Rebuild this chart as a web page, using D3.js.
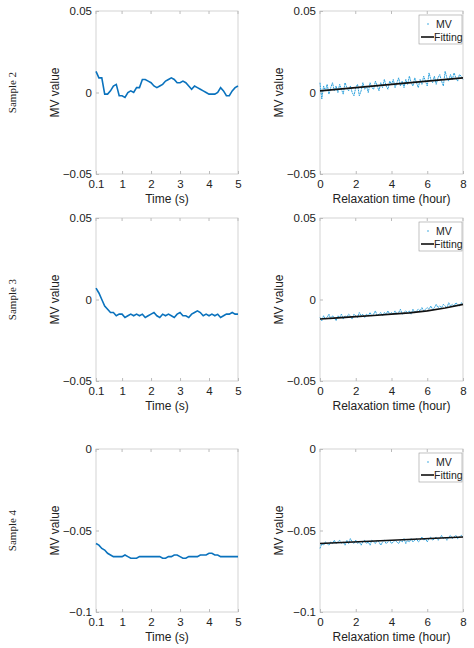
<!DOCTYPE html><html><head><meta charset="utf-8">
<script src="https://cdn.jsdelivr.net/npm/d3@7"></script>
<style>body{margin:0;background:#fff}text{font-family:"Liberation Sans",Arial,sans-serif}</style></head><body>
<svg id="c" width="474" height="648"></svg>
<script>
const sampleNames=["Sample 2","Sample 3","Sample 4"];
const yDomains=[[-0.05,0.05],[-0.05,0.05],[-0.1,0]];
const yTicks=[[-0.05,0,0.05],[-0.05,0,0.05],[-0.1,-0.05,0]];
const leftT=[0.1,0.2,0.3,0.4,0.5,0.6,0.7,0.8,0.9,1.0,1.1,1.2,1.3,1.4,1.5,1.6,1.7,1.8,1.9,2.0,2.1,2.2,2.3,2.4,2.5,2.6,2.7,2.8,2.9,3.0,3.1,3.2,3.3,3.4,3.5,3.6,3.7,3.8,3.9,4.0,4.1,4.2,4.3,4.4,4.5,4.6,4.7,4.8,4.9,5.0];
const left2=[0.013,0.009,0.009,-0.001,-0.001,0.001,0.004,0.005,-0.002,-0.002,-0.003,0.000,0.001,0.000,0.003,0.003,0.008,0.008,0.007,0.006,0.004,0.003,0.004,0.005,0.007,0.008,0.009,0.008,0.006,0.006,0.007,0.006,0.004,0.002,0.004,0.003,0.002,0.001,0.000,-0.001,-0.001,-0.001,0.000,0.003,0.001,-0.002,-0.002,0.001,0.003,0.004];
const left3=[0.007,0.004,0.000,-0.004,-0.006,-0.008,-0.008,-0.010,-0.009,-0.009,-0.011,-0.010,-0.009,-0.010,-0.009,-0.010,-0.009,-0.011,-0.010,-0.009,-0.008,-0.010,-0.011,-0.009,-0.010,-0.009,-0.010,-0.011,-0.009,-0.008,-0.010,-0.010,-0.011,-0.009,-0.008,-0.007,-0.008,-0.010,-0.009,-0.010,-0.009,-0.010,-0.009,-0.011,-0.010,-0.009,-0.009,-0.008,-0.009,-0.009];
const left4=[-0.058,-0.059,-0.061,-0.062,-0.064,-0.065,-0.066,-0.066,-0.066,-0.066,-0.065,-0.066,-0.067,-0.067,-0.067,-0.066,-0.066,-0.066,-0.066,-0.066,-0.066,-0.066,-0.066,-0.067,-0.067,-0.066,-0.066,-0.065,-0.065,-0.066,-0.067,-0.067,-0.066,-0.066,-0.066,-0.066,-0.065,-0.065,-0.065,-0.064,-0.064,-0.065,-0.065,-0.066,-0.066,-0.066,-0.066,-0.066,-0.066,-0.066];
const rightT=[0,0.1,0.2,0.3,0.4,0.5,0.6,0.7,0.8,0.9,1.0,1.1,1.2,1.3,1.4,1.5,1.6,1.7,1.8,1.9,2.0,2.1,2.2,2.3,2.4,2.5,2.6,2.7,2.8,2.9,3.0,3.1,3.2,3.3,3.4,3.5,3.6,3.7,3.8,3.9,4.0,4.1,4.2,4.3,4.4,4.5,4.6,4.7,4.8,4.9,5.0,5.1,5.2,5.3,5.4,5.5,5.6,5.7,5.8,5.9,6.0,6.1,6.2,6.3,6.4,6.5,6.6,6.7,6.8,6.9,7.0,7.1,7.2,7.3,7.4,7.5,7.6,7.7,7.8,7.9,8.0];
const mv2=[0.006,-0.004,0.004,0.001,0.005,-0.001,0.003,0.006,0.001,0.004,0.000,0.005,0.002,-0.001,0.006,0.003,0.001,0.004,0.000,-0.002,0.003,0.005,-0.002,0.001,0.006,0.002,0.004,0.000,0.006,0.003,0.002,0.007,0.004,0.001,0.006,0.003,0.008,0.004,0.002,0.007,0.005,0.008,0.003,0.006,0.009,0.004,0.007,0.003,0.008,0.005,0.010,0.006,0.004,0.009,0.006,0.003,0.008,0.005,0.010,0.007,0.004,0.012,0.008,0.006,0.010,0.005,0.009,0.011,0.007,0.004,0.013,0.009,0.007,0.011,0.008,0.012,0.009,0.007,0.011,0.010,0.008];
const fit2=[0.001,0.009];
const mv3=[-0.011,-0.013,-0.010,-0.012,-0.011,-0.009,-0.012,-0.010,-0.011,-0.013,-0.010,-0.011,-0.009,-0.012,-0.010,-0.011,-0.009,-0.010,-0.012,-0.009,-0.010,-0.011,-0.008,-0.010,-0.009,-0.011,-0.009,-0.010,-0.008,-0.010,-0.009,-0.007,-0.010,-0.009,-0.008,-0.010,-0.008,-0.009,-0.007,-0.009,-0.008,-0.009,-0.007,-0.009,-0.008,-0.006,-0.009,-0.008,-0.007,-0.008,-0.007,-0.009,-0.006,-0.008,-0.007,-0.006,-0.007,-0.005,-0.007,-0.006,-0.005,-0.006,-0.004,-0.006,-0.005,-0.003,-0.005,-0.004,-0.005,-0.003,-0.004,-0.005,-0.002,-0.004,-0.003,-0.004,-0.002,-0.003,-0.004,-0.002,-0.003];
const fit3=[-0.012,-0.0113,-0.0105,-0.0098,-0.009,-0.0082,-0.0070,-0.0052,-0.0030];
const mv4=[-0.061,-0.058,-0.059,-0.057,-0.058,-0.059,-0.057,-0.058,-0.056,-0.058,-0.057,-0.056,-0.058,-0.057,-0.059,-0.056,-0.058,-0.055,-0.057,-0.058,-0.056,-0.058,-0.057,-0.059,-0.057,-0.056,-0.058,-0.057,-0.059,-0.056,-0.057,-0.058,-0.056,-0.057,-0.059,-0.057,-0.056,-0.058,-0.057,-0.056,-0.058,-0.057,-0.056,-0.057,-0.058,-0.056,-0.057,-0.055,-0.058,-0.056,-0.057,-0.055,-0.057,-0.056,-0.055,-0.057,-0.056,-0.054,-0.056,-0.055,-0.057,-0.055,-0.054,-0.056,-0.055,-0.054,-0.056,-0.055,-0.053,-0.055,-0.054,-0.056,-0.054,-0.053,-0.055,-0.054,-0.053,-0.055,-0.054,-0.053,-0.054];
const fit4=[-0.058,-0.054];
const leftXTicks=[0.1,1,2,3,4,5];
const rightXTicks=[0,2,4,6,8];
const leftData=[left2,left3,left4];
const rightData=[mv2,mv3,mv4];
const fits=[fit2,fit3,fit4];

const svg=d3.select("#c");
const rows=[[11,174],[218,381],[449,612]];
const fmt=v=>v===0?"0":String(v).replace("-","\u2212");
rows.forEach((r,i)=>{
  const y=d3.scaleLinear().domain(yDomains[i]).range([r[1],r[0]]);
  [[96,238,"L"],[320,463,"R"]].forEach(([x0,x1,k])=>{
    const isL=k==="L";
    const x=d3.scaleLinear().domain(isL?[0.1,5]:[0,8]).range([x0,x1]);
    const g=svg.append("g");
    g.append("rect").attr("x",x0).attr("y",r[0]).attr("width",x1-x0).attr("height",r[1]-r[0]).attr("fill","none").attr("stroke","#c8c8c8").attr("stroke-width",0.8);
    const xt=isL?leftXTicks:rightXTicks;
    const ax=g.append("g").attr("transform",`translate(0,${r[1]})`).call(d3.axisBottom(x).tickValues(xt).tickSize(-3).tickPadding(6).tickFormat(d=>String(d)));
    const ay=g.append("g").attr("transform",`translate(${x0},0)`).call(d3.axisLeft(y).tickValues(yTicks[i]).tickSize(-3).tickPadding(4).tickFormat(fmt));
    [ax,ay].forEach(a=>{a.select(".domain").remove();a.selectAll("line").attr("stroke","#bbb");a.selectAll("text").attr("font-size",11.5).attr("fill","#222");});
    g.selectAll(null).data(xt).enter().append("line").attr("x1",d=>x(d)).attr("x2",d=>x(d)).attr("y1",r[0]).attr("y2",r[0]+3).attr("stroke","#bbb");
    g.append("text").attr("x",(x0+x1)/2).attr("y",r[1]+29).attr("text-anchor","middle").attr("font-size",12).attr("fill","#222").text(isL?"Time (s)":"Relaxation time (hour)");
    g.append("text").attr("transform",`translate(${x0-37},${(r[0]+r[1])/2}) rotate(-90)`).attr("text-anchor","middle").attr("font-size",12).attr("fill","#222").text("MV value");
    if(isL){
      g.append("path").datum(leftData[i]).attr("fill","none").attr("stroke","#0a72bd").attr("stroke-width",1.6)
        .attr("d",d3.line().x((d,j)=>x(leftT[j])).y(d=>y(d)));
    } else {
      g.append("path").datum(rightData[i]).attr("fill","none").attr("stroke","#2ea3de").attr("stroke-width",1).attr("stroke-dasharray","2,0.6")
        .attr("d",d3.line().x((d,j)=>x(rightT[j])).y(d=>y(d)));
      const f=fits[i];
      g.append("path").datum(f).attr("fill","none").attr("stroke","#111").attr("stroke-width",1.6)
        .attr("d",d3.line().x((d,j)=>x(8*j/(f.length-1))).y(d=>y(d)));
      const lg=g.append("g").attr("transform",`translate(${x1-44},${r[0]+4})`);
      lg.append("rect").attr("width",43).attr("height",29).attr("fill","#fff").attr("stroke","#999").attr("stroke-width",0.6);
      lg.append("circle").attr("cx",9).attr("cy",9).attr("r",0.8).attr("fill","#2ea3de");
      lg.append("text").attr("x",17).attr("y",13).attr("font-size",10.5).attr("fill","#222").text("MV");
      lg.append("line").attr("x1",2).attr("x2",15).attr("y1",22).attr("y2",22).attr("stroke","#111").attr("stroke-width",1.6);
      lg.append("text").attr("x",15).attr("y",26).attr("font-size",10.5).attr("fill","#222").text("Fitting");
    }
  });
  svg.append("text").attr("transform",`translate(16,${(r[0]+r[1])/2}) rotate(-90)`).attr("text-anchor","middle")
    .style("font-family","'Liberation Serif',serif").attr("font-size",11).attr("fill","#222").text(sampleNames[i]);
});
</script></body></html>
